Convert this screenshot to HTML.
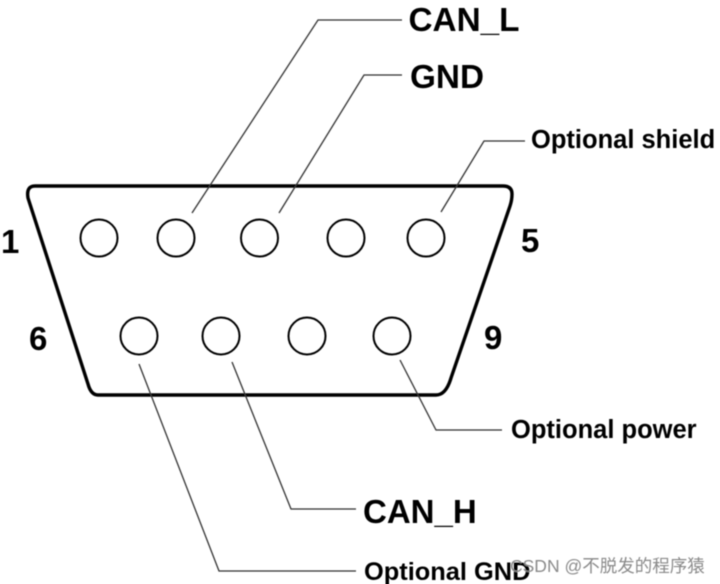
<!DOCTYPE html>
<html><head><meta charset="utf-8">
<style>
html,body{margin:0;padding:0;background:#fff;width:720px;height:584px;overflow:hidden}
svg{display:block}
.t{font-family:"Liberation Sans",sans-serif;font-weight:700;fill:#000}
</style></head>
<body>
<svg width="720" height="584" viewBox="0 0 720 584" xmlns="http://www.w3.org/2000/svg">
<defs><filter id="b" x="-5%" y="-5%" width="110%" height="110%"><feGaussianBlur stdDeviation="0.45"/></filter></defs>
<g filter="url(#b)">
<path d="M35 186H503Q512 186 512 194Q512 200 510 206L451 378Q446 395 436 395H98Q91 395 88 384L28 198Q26 186 35 186Z" fill="none" stroke="#000" stroke-width="3.4"/>
<g fill="none" stroke="#000" stroke-width="2">
<circle cx="99" cy="238" r="18.5"/><circle cx="176" cy="238" r="18.5"/><circle cx="259.500" cy="238" r="18.500"/><circle cx="346" cy="238" r="18.500"/><circle cx="426" cy="238" r="18.500"/>
<circle cx="139" cy="336" r="18.500"/><circle cx="221" cy="336" r="18.500"/><circle cx="307" cy="336" r="18.500"/><circle cx="392" cy="336" r="18.500"/>
</g>
<g fill="none" stroke="#333" stroke-width="1.3">
<path d="M192 213L318 20H402"/>
<path d="M279 213L364 75H402"/>
<path d="M441 212L484 141H525"/>
<path d="M400 360L436 430H502"/>
<path d="M232 362L291 509H356"/>
<path d="M139 364L219 571H356"/>
</g>
<text class="t" x="408.500" y="31" font-size="33.300">CAN_L</text>
<text class="t" x="410" y="88" font-size="33.300">GND</text>
<text class="t" x="531" y="148" font-size="25.500">Optional shield</text>
<text class="t" x="511" y="438" font-size="25.500">Optional power</text>
<text class="t" x="363" y="523" font-size="33">CAN_H</text>
<text class="t" x="364" y="580" font-size="25.400">Optional GND</text>
<text class="t" x="1" y="253" font-size="33">1</text>
<text class="t" x="521" y="252" font-size="33">5</text>
<text class="t" x="29" y="350" font-size="33">6</text>
<text class="t" x="484" y="349" font-size="33">9</text>
<text x="510" y="572" font-size="17.500" fill="#8a8a8a" font-family="'Liberation Sans','Noto Sans CJK SC',sans-serif">CSDN @不脱发的程序猿</text>
</g>
</svg>
</body></html>
